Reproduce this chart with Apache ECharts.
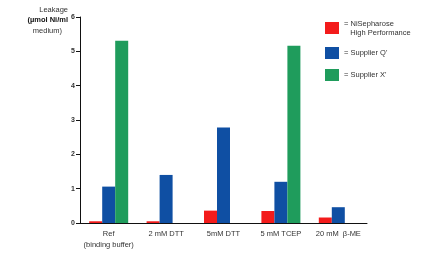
<!DOCTYPE html>
<html>
<head>
<meta charset="utf-8">
<script src="https://cdn.jsdelivr.net/npm/echarts@6/dist/echarts.min.js"></script>
<style>
  html, body { margin: 0; padding: 0; background: #fff; }
  #chart { width: 434px; height: 254px; }
</style>
</head>
<body>
<div id="chart"></div>
<script>
const categories = ['Ref\n(binding buffer)', '2 mM DTT', '5mM DTT', '5 mM TCEP', '20 mM  β-ME']
const niSepharose = [0.05, 0.05, 0.36, 0.35, 0.16]
const supplierQ = [1.06, 1.40, 2.78, 1.20, 0.46]
const supplierX = [5.31, null, null, 5.16, null]
const seriesNames = ['NiSepharose\nHigh Performance', "Supplier Q'", "Supplier X'"]
const yTicks = { min: 0, max: 6, interval: 1 }

const textFont = 'Liberation Sans'
const textColor = '#333'

const baseBar = {
  type: 'bar',
  barWidth: 13,
  barGap: '0%',
  silent: true
}

const option = {
  animation: false,
  color: ['#f31b1b', '#0f4fa3', '#1f9c5c'],
  grid: { left: 80, right: 67, top: 17, bottom: 31 },
  legend: {
    orient: 'vertical',
    left: 325,
    top: 19,
    padding: 0,
    itemWidth: 14,
    itemHeight: 12,
    itemGap: 10,
    selectedMode: false,
    icon: 'rect',
    data: seriesNames,
    formatter: name => '= ' + name.replace('\n', '\n   '),
    textStyle: { fontFamily: textFont, fontSize: 7.5, color: textColor, lineHeight: 9 }
  },
  graphic: [
    {
      type: 'text',
      right: 434 - 68,
      top: 6,
      style: {
        text: 'Leakage',
        font: '7.5px ' + textFont,
        fill: textColor,
        textAlign: 'right'
      }
    },
    {
      type: 'text',
      right: 434 - 68,
      top: 16,
      style: {
        text: '(µmol Ni/ml',
        font: 'bold 7.5px ' + textFont,
        fill: '#111',
        textAlign: 'right'
      }
    },
    {
      type: 'text',
      right: 434 - 62,
      top: 27,
      style: {
        text: 'medium)',
        font: '7.5px ' + textFont,
        fill: textColor,
        textAlign: 'right'
      }
    }
  ],
  xAxis: {
    type: 'category',
    data: categories,
    axisLine: { lineStyle: { color: '#111', width: 1 } },
    axisTick: { inside: true, length: 5, lineStyle: { color: '#111' } },
    axisLabel: {
      interval: 0,
      margin: 5,
      fontFamily: textFont,
      fontSize: 7.5,
      lineHeight: 11,
      color: textColor
    }
  },
  yAxis: {
    type: 'value',
    min: yTicks.min,
    max: yTicks.max,
    interval: yTicks.interval,
    splitLine: { show: false },
    axisLine: { show: true, lineStyle: { color: '#111', width: 1 } },
    axisTick: { show: true, length: 4, lineStyle: { color: '#111' } },
    axisLabel: {
      margin: 5,
      fontFamily: textFont,
      fontSize: 7,
      fontWeight: 'bold',
      color: textColor
    }
  },
  series: [
    { ...baseBar, name: seriesNames[0], data: niSepharose },
    { ...baseBar, name: seriesNames[1], data: supplierQ },
    { ...baseBar, name: seriesNames[2], data: supplierX }
  ]
}

const chart = echarts.init(document.getElementById('chart'))
chart.setOption(option)
</script>
</body>
</html>
